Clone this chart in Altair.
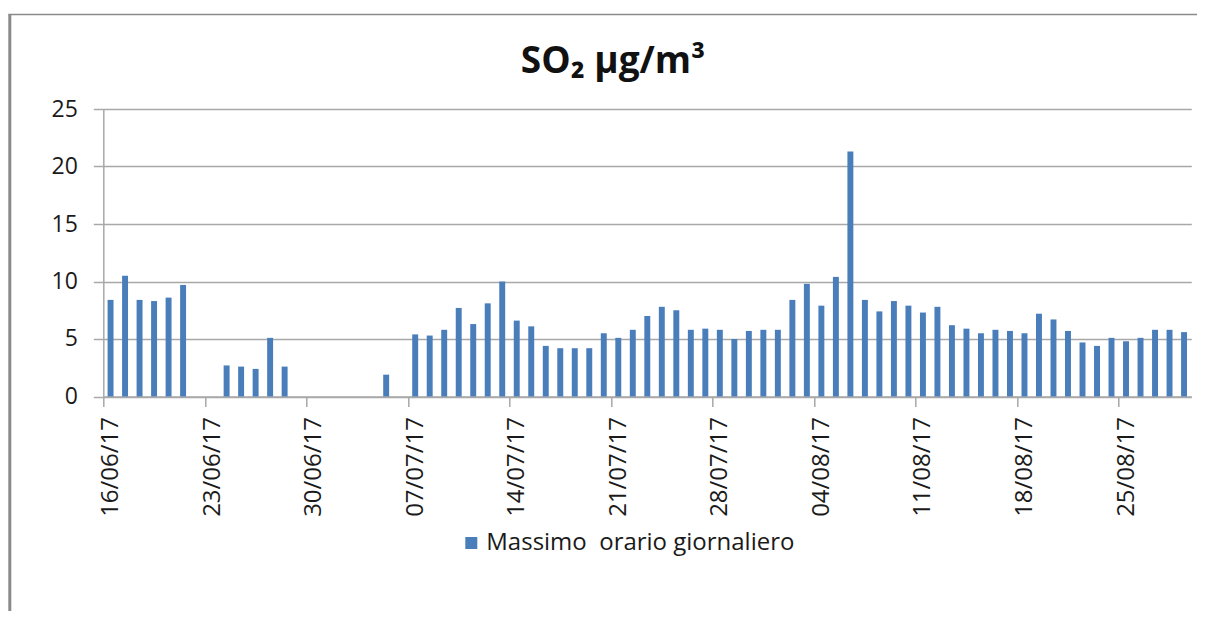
import altair as alt
import pandas as pd

# categories: one per day from 16/06/17 to 29/08/17
dates = [d.strftime("%d/%m/%y") for d in pd.date_range("2017-06-16", "2017-08-29", freq="D")]

# daily maximum hourly SO2 values (None = no data)
values = [
    8.4, 10.5, 8.4, 8.3, 8.6, 9.7, None, None, 2.7, 2.6,
    2.4, 5.1, 2.6, None, None, None, None, None, None, 1.9,
    None, 5.4, 5.3, 5.8, 7.7, 6.3, 8.1, 10.0, 6.6, 6.1,
    4.4, 4.2, 4.2, 4.2, 5.5, 5.1, 5.8, 7.0, 7.8, 7.5,
    5.8, 5.9, 5.8, 5.0, 5.7, 5.8, 5.8, 8.4, 9.8, 7.9,
    10.4, 21.3, 8.4, 7.4, 8.3, 7.9, 7.3, 7.8, 6.2, 5.9,
    5.5, 5.8, 5.7, 5.5, 7.2, 6.7, 5.7, 4.7, 4.4, 5.1,
    4.8, 5.1, 5.8, 5.8, 5.6,
]
series_name = "Massimo\u00a0 orario giornaliero"
chart_title = "SO\u2082 \u00b5g/m\u00b3"
tick_labels = dates[::7]
y_ticks = [0, 5, 10, 15, 20, 25]

df = pd.DataFrame({"data": dates, "valore": values, "serie": series_name})

W = 1088
H = 287.5
STEP = W / len(dates)
FONT = "Open Sans"
GRID = "#a8a8a8"

bars = alt.Chart(df).mark_bar(color="#4a7ebb").encode(
    x=alt.X(
        "data:N",
        sort=dates,
        scale=alt.Scale(domain=dates, paddingInner=0.59, paddingOuter=0.295),
        axis=alt.Axis(
            title=None,
            values=tick_labels,
            labelAngle=270,
            labelFont=FONT,
            labelFontSize=24,
            labelColor="#1a1a1a",
            labelPadding=10,
            tickSize=10,
            tickColor=GRID,
            tickWidth=1.5,
            domainColor=GRID,
            domainWidth=1.5,
            bandPosition=0.5,
            tickOffset=-STEP / 2,
            labelOffset=STEP / 2,
            grid=False,
            labelOverlap=False,
        ),
    ),
    y=alt.Y(
        "valore:Q",
        scale=alt.Scale(domain=[0, 25], nice=False),
        axis=alt.Axis(
            title=None,
            values=y_ticks,
            labelFont=FONT,
            labelFontSize=23,
            labelColor="#1a1a1a",
            labelPadding=16,
            tickSize=10,
            tickColor=GRID,
            tickWidth=1.5,
            domainColor=GRID,
            domainWidth=1.5,
            gridColor=GRID,
            gridWidth=1.5,
        ),
    ),
    color=alt.Color(
        "serie:N",
        scale=alt.Scale(domain=[series_name], range=["#4a7ebb"]),
        legend=alt.Legend(
            title=None,
            orient="none",
            legendX=356,
            legendY=422,
            symbolType="square",
            symbolSize=144,
            symbolStrokeWidth=0,
            labelFont=FONT,
            labelFontSize=24,
            labelColor="#1a1a1a",
            labelOffset=3,
            labelLimit=0,
            padding=0,
        ),
    ),
)

frame = pd.DataFrame({"k": [0]})
border_left = alt.Chart(frame).mark_rule(color="#8a8a8a", strokeWidth=3).encode(
    x=alt.value(-93.5), y=alt.value(-94.5), y2=alt.value(520)
)
border_top = alt.Chart(frame).mark_rule(color="#8a8a8a", strokeWidth=1.5).encode(
    x=alt.value(-95), x2=alt.value(1100), y=alt.value(-94.5)
)
title_df = pd.DataFrame({"t": [chart_title]})
title_mark = alt.Chart(title_df).mark_text(
    font=FONT, fontSize=37, fontWeight="bold", color="#111111",
    align="center", baseline="alphabetic",
).encode(text="t:N", x=alt.value(509.7), y=alt.value(-36))

chart = alt.layer(bars, border_left, border_top, title_mark).properties(
    width=W,
    height=H,
    autosize=alt.AutoSizeParams(type="none"),
    padding={"left": 95.3, "top": 101, "right": 6, "bottom": 214},
).configure_view(stroke=None)

chart.save("out.html", embed_options={"renderer": "svg", "actions": False})
